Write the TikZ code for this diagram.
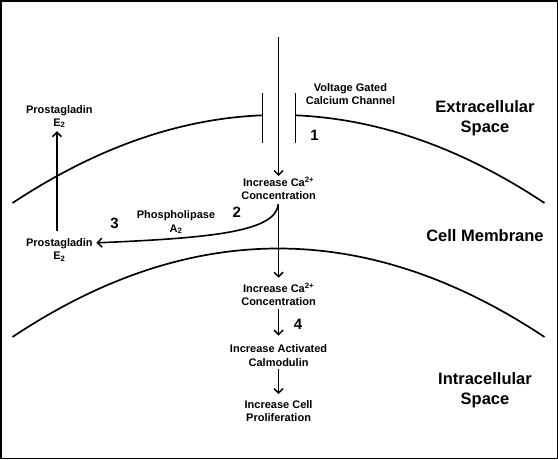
\documentclass[tikz,border=0pt]{standalone}
\usepackage{fontspec}
\setmainfont{Liberation Sans}
\usetikzlibrary{arrows.meta}
\tikzset{
  small/.style={font=\bfseries\fontsize{11}{13.3}\selectfont, align=center, inner sep=0pt},
  big/.style={font=\bfseries\fontsize{16.5}{20}\selectfont, align=center, inner sep=0pt},
  num/.style={font=\bfseries\fontsize{15}{15}\selectfont, inner sep=0pt},
  memb/.style={line width=1.7pt},
  arr/.style={line width=1.6pt, -{Straight Barb[length=4.5pt,width=9pt,line width=1.5pt]}},
}
\begin{document}
\begin{tikzpicture}[x=1pt,y=-1pt]
\useasboundingbox (0,0) rectangle (558,459);
\draw[line width=1.5pt] (0.75,0.75) rectangle (557.25,458.25);
% membranes
\draw[memb] (12.5,203) .. controls (96.2,147.7) and (179.5,118.5) .. (262.5,115.3);
\draw[memb] (295.5,115.3) .. controls (378.8,118.9) and (461.8,148.1) .. (544.5,203);
\draw[memb] (262.5,93) -- (262.5,143);
\draw[memb] (295.5,93) -- (295.5,143);
\draw[memb] (12.5,337) .. controls (189.5,219) and (366.8,219) .. (544.5,337);
% nodes
\coordinate (top) at (278.6,37.3);
\node[small] (ca1) at (278.6,188.6) {Increase Ca\textsuperscript{2+}\\Concentration};
\node[small] (ca2) at (278.6,294.3) {Increase Ca\textsuperscript{2+}\\Concentration};
\node[small] (cam) at (278.6,355.5) {Increase Activated\\Calmodulin};
\node[small] (prol) at (278.6,411) {Increase Cell\\Proliferation};
\node[small] (pgup) at (59.4,116.5) {Prostagladin\\E\textsubscript{2}};
\node[small] (pglo) at (59.4,250) {Prostagladin\\E\textsubscript{2}};
\node[small] (vgcc) at (350.5,94) {Voltage Gated\\Calcium Channel};
\node[small] (phos) at (176,222.3) {Phospholipase\\A\textsubscript{2}};
\node[big] (ext) at (485,118) {Extracellular\\Space};
\node[big] (cm) at (485,235.3) {Cell Membrane};
\node[big] (intra) at (485,390) {Intracellular\\Space};
\node[num] (n1) at (314.6,135) {1};
\node[num] (n2) at (236.7,212.3) {2};
\node[num] (n3) at (114.6,223.7) {3};
\node[num] (n4) at (298,324) {4};
% arrows
\draw[arr, shorten >=1pt] (top) -- (ca1.north);
\draw[arr, shorten <=4pt, shorten >=5pt] (ca1.south) -- (ca2.north);
\draw[arr, shorten <=3pt, shorten >=9pt] (ca2.south) -- (cam.north);
\draw[arr, shorten <=3pt, shorten >=6pt] (cam.south) -- (prol.north);
\draw[arr, shorten <=4pt] (ca1.south) .. controls (276,232) and (210,238) .. ([xshift=3.5pt,yshift=-4.5pt]pglo.north east);
\draw[arr, shorten <=7pt, shorten >=3pt] ([xshift=-2.4pt]pglo.north) -- ([xshift=-2.4pt]pgup.south);
\end{tikzpicture}
\end{document}
